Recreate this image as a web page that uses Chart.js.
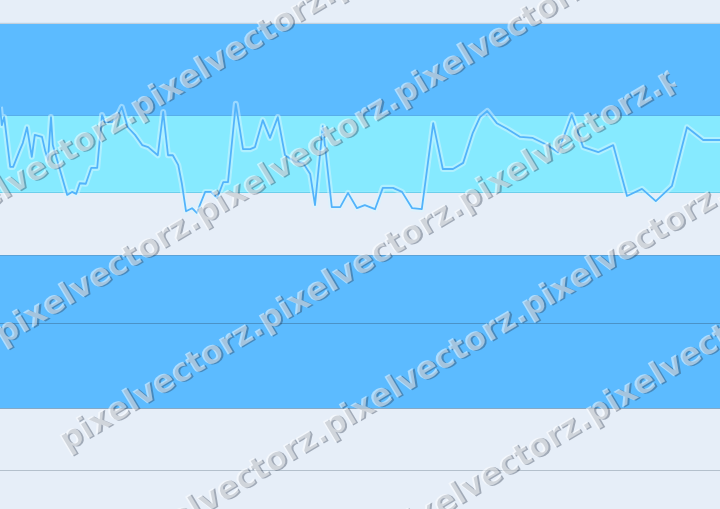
<!DOCTYPE html>
<html>
<head>
<meta charset="utf-8">
<script src="https://cdn.jsdelivr.net/npm/chart.js@4.4.1/dist/chart.umd.min.js"></script>
<style>
	html, body { margin: 0; padding: 0; background: #e6eef8; }
	#wrap { width: 720px; height: 509px; position: relative; }
</style>
</head>
<body>
<div id="wrap"><canvas id="chart"></canvas></div>
<script>
// x: session index (0..120), y: level (0..100, bottom to top)
const xs = [0, 0.3, 0.7, 1.7, 2.2, 3.3, 3.8, 4.5, 5.3, 5.8, 7, 7.5, 8, 8.5, 8.8, 10, 11.2, 12, 12.7, 13.3,
	14.3, 15.2, 16.2, 17, 17.5, 18.7, 19.5, 20.3, 21.3, 22.5, 23.7, 24.7, 26.3, 27.2, 28, 28.8, 29.7, 30.3, 31, 32,
	32.8, 34.2, 35.2, 36.2, 37.2, 38, 39.3, 40.5, 41.7, 42.5, 43.8, 45, 46.3, 47.5, 49.2, 50.5, 51.7, 52.5, 53.8, 55.3,
	56.7, 58, 59.5, 60.8, 62.5, 63.8, 65.5, 67, 68.7, 70.3, 72.2, 73.8, 75.5, 77.2, 78.8, 80, 81.2, 82.8, 84.5, 86.7,
	88.8, 91.2, 93, 95.3, 97.2, 99.7, 102.2, 104.5, 107, 109.3, 112, 114.5, 117.2, 120];
const ys = [79.0, 75.4, 77.0, 67.2, 67.2, 70.5, 71.9, 75.0, 69.2, 73.5, 73.1, 70.5, 68.6, 77.0, 71.5, 66.6, 61.7, 62.3, 61.9, 64.0,
	63.9, 67.0, 67.0, 77.4, 76.0, 76.0, 77.0, 79.0, 75.0, 73.5, 71.5, 71.1, 69.5, 78.0, 69.5, 69.5, 67.6, 64.0, 58.5, 59.1,
	58.2, 62.3, 62.3, 61.1, 64.2, 64.2, 79.6, 70.7, 70.7, 71.1, 76.4, 72.9, 77.0, 69.5, 68.2, 68.0, 65.8, 59.7, 75.2, 59.3,
	59.3, 62.1, 59.1, 59.7, 58.9, 63.1, 63.1, 62.3, 59.1, 58.9, 75.8, 66.8, 66.8, 68.0, 73.9, 77.0, 78.2, 75.8, 74.7, 73.1,
	72.9, 71.5, 70.1, 77.4, 71.1, 70.1, 71.5, 61.5, 62.9, 60.5, 63.5, 75.0, 72.5, 72.5];

// horizontal zones (low, high) and reference levels
const bandLow = [77.4, 62.3, 19.8];
const bandHigh = [95.5, 77.4, 49.9];
const levels = [95.5, 77.4, 62.3, 49.9, 36.5, 19.8, 7.7];

const watermarkText = 'pixelvectorz.';

const points = xs.map((x, i) => ({ x, y: ys[i] }));

// zones + level lines go under the data, read through the chart's own scales
const zones = {
	id: 'zones',
	beforeDatasetsDraw(chart, args, opts) {
		const { ctx, chartArea: a, scales: { y } } = chart;
		ctx.save();
		bandLow.forEach((lo, i) => {
			const top = y.getPixelForValue(bandHigh[i]);
			const bottom = y.getPixelForValue(lo);
			ctx.fillStyle = opts.colors[i];
			ctx.fillRect(a.left, top, a.right - a.left, bottom - top);
		});
		levels.forEach((v, i) => {
			const py = Math.round(y.getPixelForValue(v)) + 0.5;
			ctx.strokeStyle = opts.lineColors[i];
			ctx.lineWidth = 1;
			ctx.beginPath();
			ctx.moveTo(a.left, py);
			ctx.lineTo(a.right, py);
			ctx.stroke();
		});
		ctx.restore();
	},
};

// rotated watermark block: a few rows of repeated text, clipped to a rotated box
const watermark = {
	id: 'watermark',
	afterDraw(chart, args, opts) {
		const { ctx } = chart;
		ctx.save();
		ctx.rotate(-opts.angle * Math.PI / 180);
		ctx.beginPath();
		ctx.rect(opts.left, opts.top, opts.right - opts.left, opts.rows * opts.rowGap + opts.rowGap);
		ctx.clip();
		ctx.font = opts.font;
		ctx.textBaseline = 'alphabetic';
		const line = watermarkText.repeat(4);
		for (let r = 0; r < opts.rows; r++) {
			const yy = opts.top + opts.rowGap * 0.6 + r * opts.rowGap;
			ctx.fillStyle = opts.shadow;
			ctx.fillText(line, opts.left + 1.5, yy + 1.5);
			ctx.fillStyle = opts.fill;
			ctx.fillText(line, opts.left, yy);
		}
		ctx.restore();
	},
};

new Chart(document.getElementById('chart'), {
	type: 'line',
	data: {
		datasets: [
			{ data: points, borderColor: '#52b3fb', borderWidth: 1.8, borderJoinStyle: 'round', pointRadius: 0, tension: 0, order: 1 },
			{ data: points, borderColor: 'rgba(215,245,255,0.5)', borderWidth: 6, borderJoinStyle: 'round', pointRadius: 0, tension: 0, order: 2 },
		],
	},
	options: {
		responsive: true,
		maintainAspectRatio: false,
		animation: false,
		layout: { padding: 0 },
		scales: {
			x: { type: 'linear', min: 0, max: 120, display: false },
			y: { min: 0, max: 100, display: false },
		},
		plugins: {
			legend: { display: false },
			tooltip: { enabled: false },
			zones: {
				colors: ['#5cbbff', '#86eaff', '#5cbbff'],
				lineColors: ['#c4d0dc', '#58aeea', '#6ccfec', '#5aa2d8', '#4b93c8', '#86a9c6', '#b4c0cc'],
			},
			watermark: {
				angle: 31, font: 'bold 32px "DejaVu Sans"', rows: 5, rowGap: 124,
				left: -176, right: 536, top: 99,
				fill: 'rgba(255,255,255,0.5)', shadow: 'rgba(40,50,70,0.36)',
			},
		},
	},
	plugins: [zones, watermark],
});
</script>
</body>
</html>
